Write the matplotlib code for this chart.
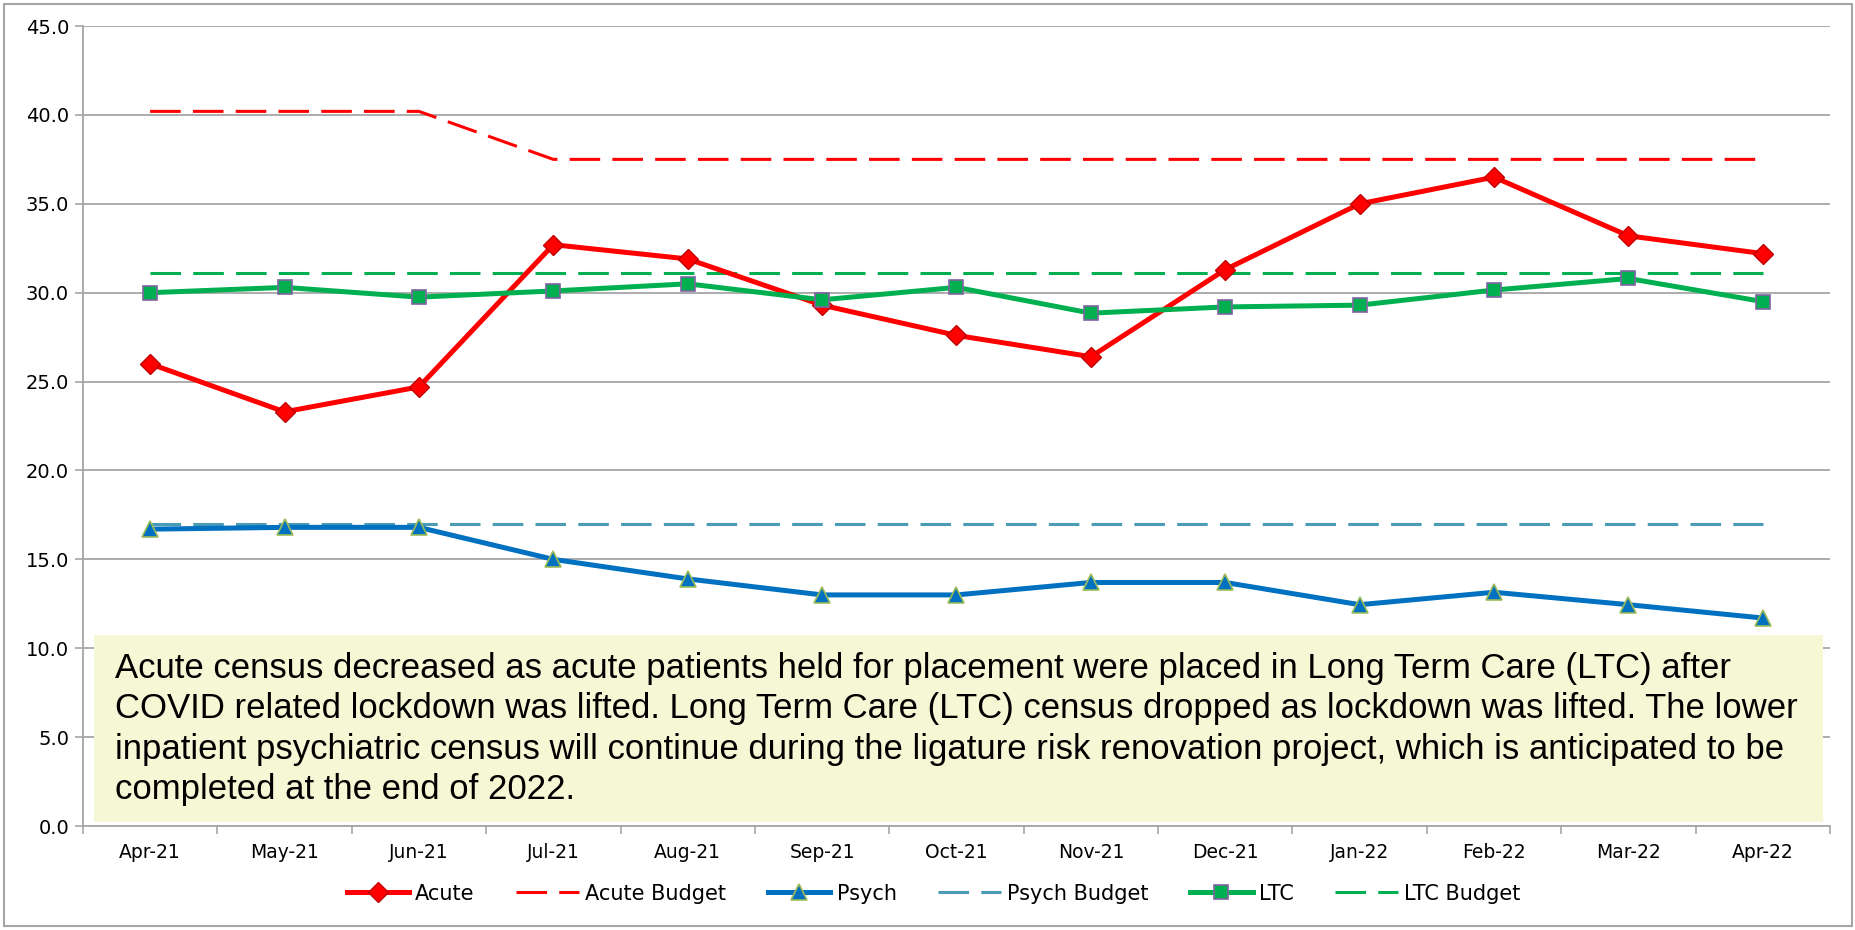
import matplotlib
matplotlib.use("Agg")
import matplotlib.pyplot as plt
from matplotlib.patches import Rectangle
from matplotlib.ticker import FixedLocator, MultipleLocator
import numpy as np

# Data
months = ["Apr-21", "May-21", "Jun-21", "Jul-21", "Aug-21", "Sep-21", "Oct-21",
          "Nov-21", "Dec-21", "Jan-22", "Feb-22", "Mar-22", "Apr-22"]
acute = [26.0, 23.3, 24.7, 32.7, 31.9, 29.3, 27.6, 26.4, 31.3, 35.0, 36.5, 33.2, 32.2]
acute_budget = [40.2, 40.2, 40.2, 37.5, 37.5, 37.5, 37.5, 37.5, 37.5, 37.5, 37.5, 37.5, 37.5]
psych = [16.7, 16.8, 16.8, 15.0, 13.9, 13.0, 13.0, 13.7, 13.7, 12.45, 13.15, 12.45, 11.7]
psych_budget = [17.0] * 13
ltc = [30.0, 30.3, 29.75, 30.1, 30.5, 29.6, 30.3, 28.85, 29.2, 29.3, 30.15, 30.8, 29.5]
ltc_budget = [31.1] * 13

note = ("Acute census decreased as acute patients held for placement were placed in Long Term Care (LTC) after\n"
        "COVID related lockdown was lifted. Long Term Care (LTC) census dropped as lockdown was lifted. The lower\n"
        "inpatient psychiatric census will continue during the ligature risk renovation project, which is anticipated to be\n"
        "completed at the end of 2022.")

x = np.arange(len(months))

fig = plt.figure(figsize=(18.56, 9.3), dpi=100)
ax = fig.add_axes([0.0447, 0.1118, 0.9413, 0.8602])

# dashed budget lines
ax.plot(x, acute_budget, color="#FF0000", lw=2.2, linestyle=(0, (10, 4)), label="Acute Budget", zorder=3)
ax.plot(x, psych_budget, color="#4A9BB5", lw=2.2, linestyle=(0, (10, 4)), label="Psych Budget", zorder=3)
ax.plot(x, ltc_budget, color="#00B050", lw=2.2, linestyle=(0, (10, 4)), label="LTC Budget", zorder=3)

# actuals
ax.plot(x, acute, color="#FF0000", lw=3.6, marker="D", ms=10.5, mfc="#FF0000", mec="#C00000",
        mew=1.0, label="Acute", zorder=4)
ax.plot(x, psych, color="#0070C0", lw=3.6, marker="^", ms=12, mfc="#0070C0", mec="#9BBB59",
        mew=1.2, label="Psych", zorder=4)
ax.plot(x, ltc, color="#00B050", lw=3.6, marker="s", ms=10, mfc="#00B050", mec="#8064A2",
        mew=1.2, label="LTC", zorder=4)

ax.set_xlim(-0.5, len(months) - 0.5)
ax.set_ylim(0, 45)
ax.yaxis.set_major_locator(MultipleLocator(5))
ax.set_yticklabels([f"{v:.1f}" for v in ax.get_yticks()])
ax.grid(axis="y", color="#A6A6A6", lw=1.3)
ax.set_axisbelow(True)

ax.set_xticks(x)
ax.set_xticklabels(months)
ax.xaxis.set_minor_locator(FixedLocator(np.arange(-0.5, len(months), 1)))
ax.tick_params(axis="x", which="major", length=0, pad=12, labelsize=13.5)
ax.tick_params(axis="x", which="minor", length=6, color="#A6A6A6", width=1.2)
ax.tick_params(axis="y", length=6, color="#A6A6A6", width=1.2, labelsize=14, pad=4)

for s in ["top", "right"]:
    ax.spines[s].set_visible(False)
for s in ["left", "bottom"]:
    ax.spines[s].set_color("#A6A6A6")
    ax.spines[s].set_linewidth(1.3)

# comment box
ax.add_patch(Rectangle((0.0064, 0.005), 0.9896, 0.234, transform=ax.transAxes,
                       facecolor="#F6F8D5", edgecolor="none", zorder=5))
ax.text(0.0185, 0.218, note, transform=ax.transAxes, va="top", ha="left",
        fontsize=25, family="Liberation Sans", linespacing=1.29, zorder=6)

# legend in the order shown
handles, labels = ax.get_legend_handles_labels()
order = ["Acute", "Acute Budget", "Psych", "Psych Budget", "LTC", "LTC Budget"]
hmap = dict(zip(labels, handles))
fig.legend([hmap[k] for k in order], order, loc="center", bbox_to_anchor=(0.503, 0.039),
           ncol=6, frameon=False, fontsize=15, handlelength=3.0, columnspacing=2.0,
           handletextpad=0.3)

# outer chart border
fig.patches.append(Rectangle((0.002, 0.004), 0.996, 0.992, transform=fig.transFigure,
                             fill=False, edgecolor="#A6A6A6", lw=1.5))

fig.savefig("out.png", dpi=100)
